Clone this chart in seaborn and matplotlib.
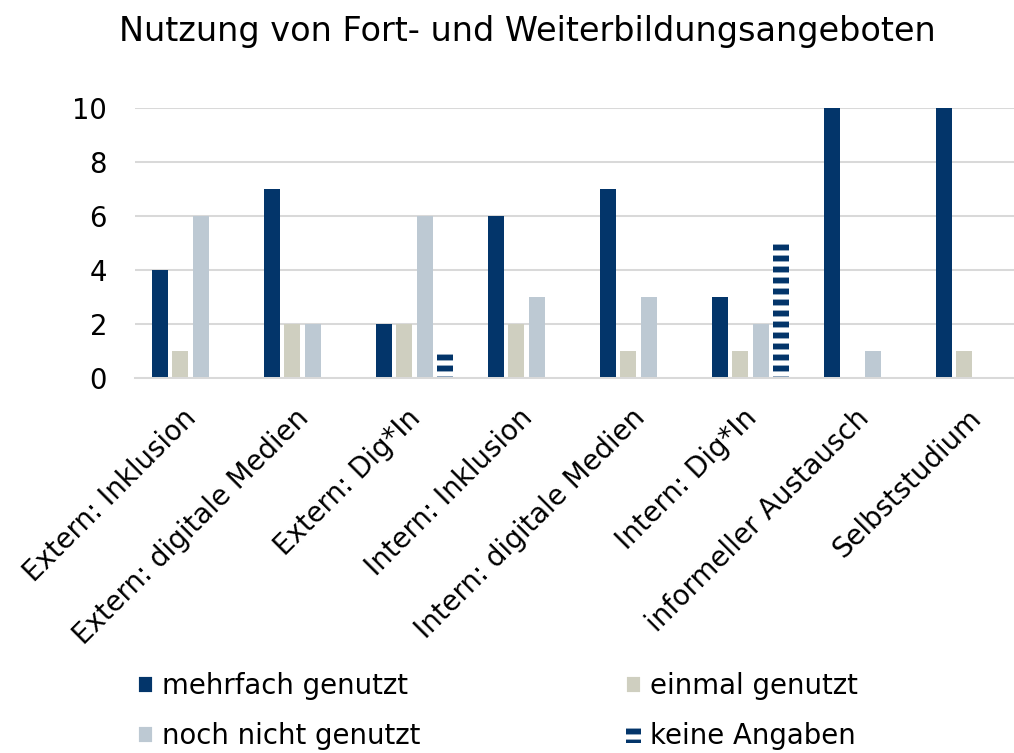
import pandas as pd
import seaborn as sns
import matplotlib.pyplot as plt
import matplotlib.patches as mpatches
import matplotlib.transforms as mtransforms

categories = [
    "Extern: Inklusion", "Extern: digitale Medien", "Extern: Dig*In",
    "Intern: Inklusion", "Intern: digitale Medien", "Intern: Dig*In",
    "informeller Austausch", "Selbststudium",
]
series = ["mehrfach genutzt", "einmal genutzt", "noch nicht genutzt", "keine Angaben"]
mehrfach = [4, 7, 2, 6, 7, 3, 10, 10]
einmal = [1, 2, 2, 2, 1, 1, 0, 1]
noch_nicht = [6, 2, 6, 3, 3, 2, 1, 0]
keine_angaben = [0, 0, 1, 0, 0, 5, 0, 0]
y_ticks = [0, 2, 4, 6, 8, 10]

DARK = "#03356A"
BEIGE = "#CFCFC0"
LIGHT = "#BDC9D3"
GRID = "#D9D9D9"

# Build long table
df = pd.DataFrame({
    "kategorie": categories * 4,
    "serie": [s for s in series for _ in categories],
    "wert": mehrfach + einmal + noch_nicht + keine_angaben,
})

sns.set_theme(style="white")
plt.rcParams["font.family"] = ["DejaVu Sans"]
plt.rcParams["text.color"] = "black"
plt.rcParams["hatch.linewidth"] = 3.2

fig = plt.figure(figsize=(1014 / 132, 753 / 132), dpi=132)
ax = fig.add_axes([134.5 / 1014, 1 - 378 / 753, 896 / 1014, 270 / 753])

sns.barplot(
    data=df, x="kategorie", y="wert", hue="serie",
    order=categories, hue_order=series,
    palette=[DARK, BEIGE, LIGHT, "white"],
    width=0.73, gap=0.22, legend=False, ax=ax,
    linewidth=0, saturation=1,
)

# striped bars for "keine Angaben"
for bar in ax.containers[3]:
    bar.set_facecolor("white")
    bar.set_edgecolor(DARK)
    bar.set_hatch("--")
    bar.set_linewidth(0)

ax.set_ylim(0, 10)
ax.set_yticks(y_ticks)
ax.set_xlim(-0.5, len(categories) - 0.5)
ax.yaxis.grid(True, color=GRID, linewidth=1.1)
ax.set_axisbelow(True)
for side in ["left", "right", "top"]:
    ax.spines[side].set_visible(False)
ax.spines["bottom"].set_color(GRID)
ax.spines["bottom"].set_linewidth(1.1)
ax.tick_params(axis="y", length=0, pad=15, labelsize=15, colors="black")
ax.tick_params(axis="x", length=0, pad=7, labelsize=15, colors="black")
plt.setp(ax.get_xticklabels(), rotation=45, ha="right", rotation_mode="anchor")
# nudge rotated labels a bit left/down like the original
offset = mtransforms.ScaledTranslation(-8 / 132, -13 / 132, fig.dpi_scale_trans)
for label in ax.get_xticklabels():
    label.set_transform(label.get_transform() + offset)
ax.set_xlabel("")
ax.set_ylabel("")

fig.suptitle("Nutzung von Fort- und Weiterbildungsangeboten", x=0.52, y=0.98, fontsize=18.3)

handles = [
    mpatches.Patch(facecolor=DARK, label=series[0]),
    mpatches.Patch(facecolor=LIGHT, label=series[2]),
    mpatches.Patch(facecolor=BEIGE, label=series[1]),
    mpatches.Patch(facecolor="white", edgecolor=DARK, hatch="--", linewidth=0, label=series[3]),
]
fig.legend(
    handles=handles, ncol=2, loc="lower left", bbox_to_anchor=(0.112, -0.029),
    frameon=False, fontsize=15, handlelength=0.55, handleheight=0.55,
    handletextpad=0.3, columnspacing=7.5, labelspacing=0.8,
)

fig.savefig("out.png", dpi=132)
